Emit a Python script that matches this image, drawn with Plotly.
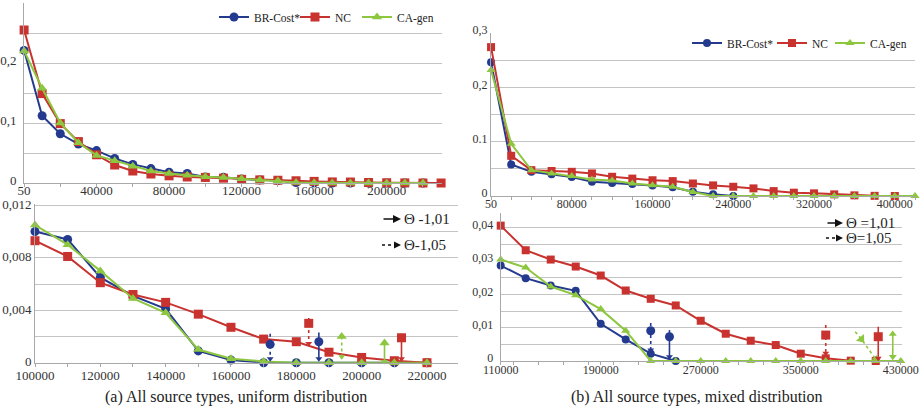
import plotly.graph_objects as go

# ---------------- data ----------------
# (a) uniform distribution, overview
x_a = [50, 10000, 20000, 30000, 40000, 50000, 60000, 70000, 80000, 90000, 100000,
       110000, 120000, 130000, 140000, 150000, 160000, 170000, 180000, 190000,
       200000, 210000, 220000, 230000]
br_a = [0.221, 0.112, 0.082, 0.065, 0.054, 0.041, 0.031, 0.024, 0.018, 0.016, 0.0100,
        0.0094, 0.0065, 0.0051, 0.0041, 0.0009, 0.0002, 0.0, 0.0, 0.0, 0.0, 0.0, 0.0]
nc_a = [0.255, 0.149, 0.099, 0.069, 0.047, 0.030, 0.020, 0.015, 0.012, 0.010, 0.0093,
        0.0081, 0.0061, 0.0052, 0.0046, 0.0037, 0.0027, 0.0018, 0.0016, 0.0008,
        0.0004, 0.00015, 0.0, 0.0]
ca_a = [0.220, 0.158, 0.100, 0.067, 0.046, 0.037, 0.028, 0.020, 0.016, 0.013, 0.0105,
        0.0090, 0.0070, 0.0049, 0.0038, 0.0010, 0.0003, 0.0001, 0.0, 0.0, 0.0, 0.0, 0.0]
# zoomed tail of (a): 100000 .. 220000
tail_start, tail_end = 10, 23

xt_a_top = [50, 40000, 80000, 120000, 160000, 200000]
xl_a_top = ["50", "40000", "80000", "120000", "160000", "200000"]
yt_a_top = [0, 0.05, 0.1, 0.15, 0.2, 0.25, 0.3]
yl_a_top = ["0", "", "0,1", "", "0,2", "", "0,3"]
xt_a_bot = [100000, 120000, 140000, 160000, 180000, 200000, 220000]
xl_a_bot = ["100000", "120000", "140000", "160000", "180000", "200000", "220000"]
yt_a_bot = [0, 0.002, 0.004, 0.006, 0.008, 0.010, 0.012]
yl_a_bot = ["0", "", "0,004", "", "0,008", "", "0,012"]

# Theta markers (a)
th_a_series = ["BR", "NC", "BR", "CA", "CA", "NC"]
th_a_theta = ["1,05", "1,05", "1,01", "1,05", "1,01", "1,01"]
th_a_x = [172000, 183800, 186900, 193900, 207000, 212200]
th_a_yfrom = [0.0022, 0.0034, 0.0023, 0.0020, 0.0015, 0.0022]
th_a_ymark = [0.0014, 0.0030, 0.0016, 0.0020, 0.0015, 0.0019]
th_a_yto = [0.0003, 0.00147, 0.0003, 0.00046, 0.0001, 0.0003]

# (b) mixed distribution, overview
x_b = [50, 20000, 40000, 60000, 80000, 100000, 120000, 140000, 160000, 180000, 200000,
       220000, 240000, 260000, 280000, 300000, 320000, 340000, 360000, 380000, 400000, 420000]
br_b = [0.246, 0.058, 0.0445, 0.040, 0.035, 0.026, 0.024, 0.022, 0.0195, 0.016, 0.008,
        0.003, 0.0]
nc_b = [0.274, 0.074, 0.0476, 0.046, 0.0445, 0.0415, 0.0354, 0.032, 0.029, 0.0274, 0.023,
        0.0195, 0.017, 0.014, 0.009, 0.0061, 0.0049, 0.003, 0.0012, 0.0003, 0.0]
ca_b = [0.232, 0.096, 0.0476, 0.0415, 0.0366, 0.0305, 0.0287, 0.023, 0.020, 0.017, 0.0073,
        0.0, 0.0, 0.0, 0.0, 0.0, 0.0, 0.0, 0.0, 0.0, 0.0, 0.0]
# (b) zoomed
x_b2 = [110000, 130000, 150000, 170000, 190000, 210000, 230000, 250000, 270000, 290000,
        310000, 330000, 350000, 370000, 390000, 410000, 430000]
br_b2 = [0.0287, 0.0249, 0.0227, 0.0211, 0.0112, 0.0065, 0.0022, 0.0]
nc_b2 = [0.0407, 0.0333, 0.0305, 0.0284, 0.0257, 0.0212, 0.0187, 0.0167, 0.0121, 0.0082,
         0.0061, 0.0048, 0.0022, 0.0008, 0.0001, 0.0]
ca_b2 = [0.0305, 0.0281, 0.0224, 0.0198, 0.0156, 0.0091, 0.0, 0.0, 0.0, 0.0, 0.0, 0.0,
         0.0, 0.0, 0.0, 0.0, 0.0]

xt_b_top = [50, 80000, 160000, 240000, 320000, 400000]
xl_b_top = ["50", "80000", "160000", "240000", "320000", "400000"]
yt_b_top = [0, 0.05, 0.1, 0.15, 0.2, 0.25, 0.3]
yl_b_top = ["0", "", "0.1", "", "0,2", "", "0,3"]
xt_b_bot = [110000, 190000, 270000, 350000, 430000]
xl_b_bot = ["110000", "190000", "270000", "350000", "430000"]
yt_b_bot = [0, 0.005, 0.01, 0.015, 0.02, 0.025, 0.03, 0.035, 0.04]
yl_b_bot = ["0", "", "0,01", "", "0,02", "", "0,03", "", "0,04"]

# Theta markers (b)
th_b_series = ["BR", "BR", "NC", "CA", "NC", "CA"]
th_b_theta = ["1,05", "1,01", "1,05", "1,05", "1,01", "1,01"]
th_b_xfrom = [230000, 245000, 370000, 393600, 412000, 423600]
th_b_xmark = [230000, 245000, 370000, 398500, 412000, 423600]
th_b_xto = [230000, 245000, 370000, 409500, 412000, 423600]
th_b_yfrom = [0.0114, 0.0093, 0.0108, 0.0088, 0.0103, 0.0081]
th_b_ymark = [0.0091, 0.0073, 0.0078, 0.0066, 0.0073, 0.0081]
th_b_yto = [0.0033, 0.0013, 0.0023, 0.0008, 0.0008, 0.0013]

names = {"BR": "BR-Cost*", "NC": "NC", "CA": "CA-gen"}
captions = ["(a) All source types, uniform distribution",
            "(b) All source types, mixed distribution"]
theta_labels_a = ["Θ -1,01", "Θ-1,05"]
theta_labels_b = ["Θ =1,01", "Θ=1,05"]

# ---------------- style ----------------
W, H = 924, 415
COL = {"BR": "#233a8e", "NC": "#c8322f", "CA": "#8dc63f"}
SYM = {"BR": "circle", "NC": "square", "CA": "triangle-up"}
SERIF = "Liberation Serif"
GRID = "#c4c4c4"
TXT = "#333333"


def px(x):
    return x / W


def py(y):
    return 1 - y / H


fig = go.Figure()


def add_series(xs, ys, key, xa, ya, legend=None, lw=None, msize=9):
    fig.add_trace(go.Scatter(
        x=xs[:len(ys)], y=ys, name=names[key], mode="lines+markers",
        xaxis=xa, yaxis=ya, cliponaxis=False,
        line=dict(color=COL[key], width=2),
        marker=dict(symbol=SYM[key], size=msize, color=COL[key], opacity=1),
        showlegend=legend is not None, legend=legend or "legend",
        legendwidth=lw,
    ))


# (a) top
lw_a = {"BR": 36, "NC": 17, "CA": 42}
for key, ys in (("BR", br_a), ("NC", nc_a), ("CA", ca_a)):
    add_series(x_a, ys, key, "x", "y", legend="legend", lw=lw_a[key])
# (a) bottom
for key, ys in (("BR", br_a), ("NC", nc_a), ("CA", ca_a)):
    add_series(x_a[tail_start:tail_end], ys[tail_start:tail_end], key, "x2", "y2", msize=9)
# (b) top
lw_b = {"BR": 40, "NC": 13, "CA": 42}
for key, ys in (("BR", br_b), ("NC", nc_b), ("CA", ca_b)):
    add_series(x_b, ys, key, "x3", "y3", legend="legend2", lw=lw_b[key], msize=8)
# (b) bottom
for key, ys in (("BR", br_b2), ("NC", nc_b2), ("CA", ca_b2)):
    add_series(x_b2, ys, key, "x4", "y4", msize=8)


def add_arrow(key, theta, xf, xm, xt, yf, ym, yt, xa, ya):
    dash = "solid" if theta == "1,01" else "dot"
    diag = xf != xt
    if key == "CA" and yf == ym:
        xs, ys = [xm, xt], [ym, yt]
        if theta == "1,01" and xa == "x4":
            syms, sizes = ["triangle-up", "triangle-down"], [7, 7]
        else:
            syms, sizes = ["triangle-up", "triangle-down"], [9, 6]
    else:
        xs, ys = [xf, xm, xt], [yf, ym, yt]
        head = "triangle-up" if diag else "triangle-down"
        syms, sizes = ["circle", SYM[key], head], [0, 9, 6]
    fig.add_trace(go.Scatter(
        x=xs, y=ys, mode="lines+markers", xaxis=xa, yaxis=ya, showlegend=False,
        cliponaxis=False,
        line=dict(color=COL[key], width=1.6, dash=dash),
        marker=dict(symbol=syms, size=sizes, color=COL[key], opacity=1,
                    line=dict(width=0),
                    angleref="previous" if diag else "up"),
    ))


for i in range(len(th_a_x)):
    add_arrow(th_a_series[i], th_a_theta[i], th_a_x[i], th_a_x[i], th_a_x[i],
              th_a_yfrom[i], th_a_ymark[i], th_a_yto[i], "x2", "y2")
for i in range(len(th_b_xfrom)):
    add_arrow(th_b_series[i], th_b_theta[i], th_b_xfrom[i], th_b_xmark[i], th_b_xto[i],
              th_b_yfrom[i], th_b_ymark[i], th_b_yto[i], "x4", "y4")


def xaxis(dom, rng, tv, tt, minor_dt, fs, anchor, standoff=-5):
    return dict(domain=[px(dom[0]), px(dom[1])], range=rng, anchor=anchor,
                automargin=False,
                tickmode="array", tickvals=tv, ticktext=tt,
                showgrid=False, zeroline=False, showline=True, linecolor="#a8a8a8",
                ticks="outside", ticklen=3, tickcolor="#a8a8a8",
                ticklabelstandoff=standoff,
                minor=dict(dtick=minor_dt, tick0=0, ticks="outside", ticklen=3,
                           tickcolor="#a8a8a8"),
                tickfont=dict(family=SERIF, size=fs, color=TXT))


def yaxis(dom, rng, tv, tt, fs, anchor, standoff=0, shift=-3):
    return dict(domain=[py(dom[1]), py(dom[0])], range=rng, anchor=anchor,
                automargin=False,
                tickmode="array", tickvals=tv, ticktext=tt,
                showgrid=True, gridcolor=GRID, gridwidth=1, zeroline=False,
                showline=True, linecolor="#a8a8a8", ticks="",
                ticklabelstandoff=standoff, ticklabelshift=shift,
                tickfont=dict(family=SERIF, size=fs, color=TXT))


annotations = [
    dict(text=captions[0], x=px(236), y=py(397), xref="paper", yref="paper",
         xanchor="center", yanchor="middle",
         showarrow=False, font=dict(family=SERIF, size=16, color="#222")),
    dict(text=captions[1], x=px(697), y=py(397), xref="paper", yref="paper",
         xanchor="center", yanchor="middle",
         showarrow=False, font=dict(family=SERIF, size=16, color="#222")),
]
shapes = []
# Theta legends
for (ax0, ax1, y1, y2, labels, fs) in ((382, 401, 219, 245, theta_labels_a, 15),
                                       (826, 843, 223, 238, theta_labels_b, 15)):
    annotations.append(dict(text="", x=px(ax1), y=py(y1), xref="paper", yref="paper",
                            ax=-(ax1 - ax0), ay=0, showarrow=True, arrowhead=2,
                            arrowsize=1, arrowwidth=1.6, arrowcolor="#111"))
    shapes.append(dict(type="line", xref="paper", yref="paper", x0=px(ax0), x1=px(ax1 - 5),
                       y0=py(y2), y1=py(y2), line=dict(color="#111", width=1.4, dash="dot")))
    annotations.append(dict(text="", x=px(ax1), y=py(y2), xref="paper", yref="paper",
                            ax=-6, ay=0, showarrow=True, arrowhead=2,
                            arrowsize=1, arrowwidth=1.4, arrowcolor="#111"))
    for lab, yy in ((labels[0], y1), (labels[1], y2)):
        annotations.append(dict(text=lab, x=px(ax1 + 1), y=py(yy), xref="paper",
                                yref="paper", xanchor="left", yanchor="middle",
                                showarrow=False, font=dict(family=SERIF, size=fs, color="#222")))

legend_common = dict(orientation="h", xanchor="left", yanchor="middle",
                     bgcolor="rgba(0,0,0,0)", font=dict(family=SERIF, size=11.5, color="#222"),
                     itemsizing="trace")

fig.update_layout(
    width=W, height=H, margin=dict(l=0, r=0, t=0, b=0, autoexpand=False),
    paper_bgcolor="white", plot_bgcolor="white",
    font=dict(family=SERIF),
    xaxis=xaxis((24, 442), [0, 230500], xt_a_top, xl_a_top, 10000 * 2, 13, "y", standoff=-8),
    yaxis=yaxis((3, 183), [0, 0.3], yt_a_top, yl_a_top, 13, "x", standoff=4),
    xaxis2=xaxis((35, 458), [100000, 229500], xt_a_bot, xl_a_bot, 10000, 13, "y2", standoff=-2),
    yaxis2=yaxis((204, 362.7), [0, 0.0121], yt_a_bot, yl_a_bot, 13, "x2", shift=-1),
    xaxis3=xaxis((491, 915), [0, 420000], xt_b_top, xl_b_top, 20000, 12, "y3", standoff=-6),
    yaxis3=yaxis((33, 196), [0, 0.3], yt_b_top, yl_b_top, 12, "x3"),
    xaxis4=xaxis((500.7, 902), [110000, 431000], xt_b_bot, xl_b_bot, 20000, 12, "y4"),
    yaxis4=yaxis((213, 361), [0, 0.0445], yt_b_bot, yl_b_bot, 12, "x4", standoff=4),
    legend=dict(x=px(214), y=py(17), **legend_common),
    legend2=dict(x=px(687), y=py(43), **legend_common),
    annotations=annotations, shapes=shapes,
)

fig.write_html("out.html", config={"displayModeBar": False},
               post_script="document.body.style.margin='0';document.body.style.padding='0';")
